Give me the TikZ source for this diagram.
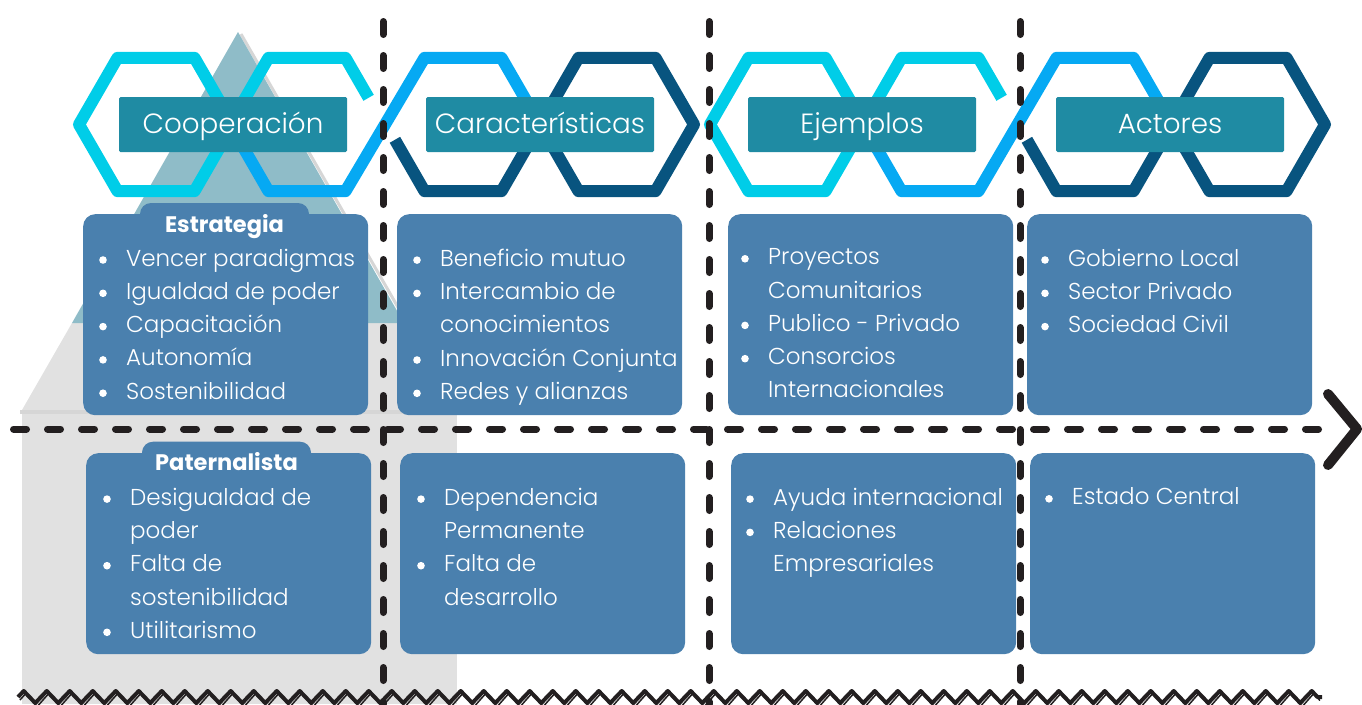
\documentclass[tikz,border=0pt]{standalone}
\usepackage{fontspec}
\setmainfont{Poppins}[UprightFont={* Light},BoldFont={* Bold}]
\usepackage{xcolor}
\usepackage{tikz}
\usetikzlibrary{decorations.pathmorphing}

\definecolor{hexcyan}{HTML}{00CDE8}
\definecolor{hexblue}{HTML}{06A9F3}
\definecolor{hexdark}{HTML}{08547F}
\definecolor{labelteal}{HTML}{1F8BA3}
\definecolor{cardblue}{HTML}{4A80AE}
\definecolor{peakteal}{HTML}{8FBCC8}
\definecolor{housegray}{HTML}{E1E1E1}
\definecolor{shadegray}{HTML}{D6D6D6}
\definecolor{inkblack}{HTML}{231F20}

\newcommand{\itm}{\makebox[29pt][l]{\hspace{2pt}\raisebox{2.2pt}{\tikz\fill[white] (0,0) circle (3.8pt);}}}
\newcommand{\nxt}{\hspace*{29pt}}

\begin{document}
\begin{tikzpicture}[x=1pt,y=-1pt,
  hexline/.style={line width=12pt,line join=round},
  hexlabel/.style={fill=labelteal,text=white,minimum width=228pt,minimum height=55pt,inner sep=0pt,
    rounded corners=1.5pt,text height=19pt,text depth=2pt,font=\fontsize{27.8}{30}\selectfont},
  card/.style={fill=cardblue,rounded corners=12pt,anchor=north west,minimum width=285pt,
    minimum height=201pt,inner sep=0pt},
  tab/.style={fill=cardblue,rounded corners=11pt,text=white,minimum width=169pt,minimum height=47pt,
    inner sep=0pt,text height=16pt,text depth=5pt,font=\fontsize{22.5}{24}\selectfont\bfseries},
  items/.style={text=white,anchor=north west,align=left,inner sep=0pt,font=\fontsize{23}{33.3}\selectfont},
  divider/.style={inkblack,line width=7pt,line cap=round,dash pattern=on 13pt off 21pt}]
\useasboundingbox (0,0) rectangle (1362,704);

% background house and peak
\fill[housegray] (22,410) -- (22,704) -- (457,704) -- (457,410) -- cycle;
\fill[housegray] (22,410) -- (72,323) -- (404,323) -- (455,410) -- cycle;
\draw[shadegray,line width=3pt] (241,34) -- (457,410);
\fill[peakteal] (72,323) -- (238,32) -- (404,323) -- cycle;
\draw[shadegray,line width=4pt] (20,412) -- (457,412);

% hexagon chain
\foreach \cx/\col in {156/hexcyan,617/hexdark,787/hexcyan,1248/hexdark}
  \draw[hexline,\col] (\cx-77,124.5) -- (\cx-38.5,57.8) -- (\cx+38.5,57.8) -- (\cx+77,124.5)
    -- (\cx+38.5,191.2) -- (\cx-38.5,191.2) -- cycle;
\foreach \a/\b in {307/463,940/1095} {
  \draw[hexline,hexcyan] (\a+61.6,97.8) -- (\a+38.5,57.8) -- (\a-38.5,57.8) -- (\a-77,124.5);
  \draw[hexline,hexdark] (\b-68.1,139.8) -- (\b-38.5,191.2) -- (\b+38.5,191.2) -- (\b+77,124.5);
  \draw[hexline,hexblue] (\a-77,124.5) -- (\a-38.5,191.2) -- (\a+38.5,191.2) -- (\b-38.5,57.8)
    -- (\b+38.5,57.8) -- (\b+77,124.5);
}

\node[hexlabel] (coop) at (233,124.5) {Cooperación};
\node[hexlabel] (carac) at (540,124.5) {Características};
\node[hexlabel] (ejem) at (862,124.5) {Ejemplos};
\node[hexlabel] (actor) at (1170,124.5) {Actores};

% upper row
\node[card] (estr) at (83,214) {};
\node[tab] (estrtab) at (224.5,226.5) {Estrategia};
\node[card] (benef) at (397,214) {};
\node[card] (proy) at (728,214) {};
\node[card] (gob) at (1027,214) {};
\node[items] (estrlist) at (97,248.5) {\itm Vencer paradigmas\\%
\itm Igualdad de poder\\%
\itm Capacitación\\%
\itm Autonomía\\%
\itm Sostenibilidad};
\node[items] (beneflist) at (411,248.5) {\itm Beneficio mutuo\\%
\itm Intercambio de\\%
\nxt conocimientos\\%
\itm Innovación Conjunta\\%
\itm Redes y alianzas};
\node[items] (proylist) at (739,248.5) {\itm Proyectos\\%
\nxt Comunitarios\\%
\itm Publico - Privado\\%
\itm Consorcios\\%
\nxt Internacionales};
\node[items] (goblist) at (1039,248.5) {\itm Gobierno Local\\%
\itm Sector Privado\\%
\itm Sociedad Civil};

% lower row
\node[card] (pater) at (86,453) {};
\node[tab] (patertab) at (226.5,465.2) {Paternalista};
\node[card] (depen) at (400,453) {};
\node[card] (ayuda) at (731,453) {};
\node[card] (estado) at (1030,453) {};
\node[items] (paterlist) at (101,487.6) {\itm Desigualdad de\\%
\nxt poder\\%
\itm Falta de\\%
\nxt sostenibilidad\\%
\itm Utilitarismo};
\node[items] (depenlist) at (415,487.6) {\itm Dependencia\\%
\nxt Permanente\\%
\itm Falta de\\%
\nxt desarrollo};
\node[items] (ayudalist) at (744,487.6) {\itm Ayuda internacional\\%
\itm Relaciones\\%
\nxt Empresariales};
\node[items] (estadolist) at (1043,487.6) {\itm Estado Central};

% dividers
\foreach \x in {383,709,1020}
  \draw[divider] (\x,21.5) -- (\x,704);
\draw[divider] (13.5,429) -- (1330,429);
\draw[inkblack,line width=10pt,line cap=round,line join=round] (1328,394) -- (1357,429) -- (1328,465);

% torn bottom edge
\draw[inkblack,line width=4pt,line join=round,decorate,decoration={zigzag,segment length=23pt,amplitude=6pt}]
  (18,697) -- (1322,697);
\draw[inkblack,line width=1.5pt,decorate,decoration={zigzag,segment length=23pt,amplitude=6.5pt}]
  (20,700) -- (1320,700);
\end{tikzpicture}
\end{document}
